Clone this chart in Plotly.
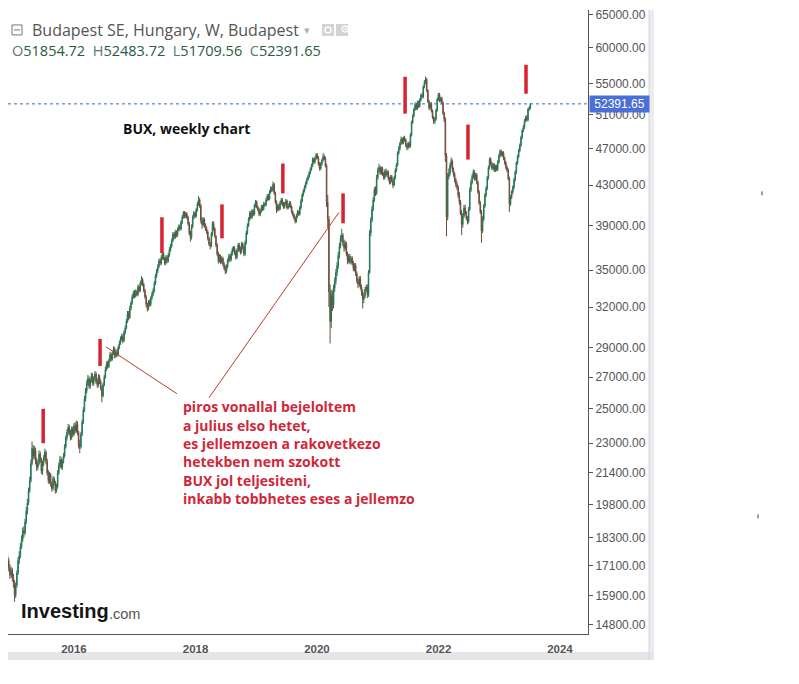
import math
import pandas as pd
import plotly.graph_objects as go

# ---------------- data (weekly BUX candles) ----------------
first_week = "2014-11-21"

closes = [
    17500, 17300, 17000, 16700, 16900, 16600, 16400, 15900, 16300, 16800,
    17300, 17500, 17900, 18200, 18600, 18500, 19000, 19500, 19900, 20500,
    21000, 21900, 22700, 22300, 22600, 22000, 21700, 21900, 22400, 22100,
    21500, 21900, 22200, 22500, 22000, 21400, 21000, 21300, 20800, 20600,
    21100, 20900, 20500, 20700, 21400, 21800, 22100, 21700, 22000, 22300,
    22800, 23300, 23600, 23900, 23600, 23300, 23800, 23500, 24000, 23700,
    24100, 23600, 22900, 22800, 23500, 24200, 24900, 25600, 26100, 26600,
    26900, 26400, 26800, 27100, 26600, 26900, 27200, 26700, 26500, 27000,
    26700, 26300, 25800, 26500, 27000, 27500, 27900, 27700, 28100, 28500,
    28200, 28600, 28900, 28400, 28700, 28500, 29000, 29300, 29600, 29800,
    29500, 30100, 30400, 30900, 31500, 31200, 31900, 32300, 32800, 33100,
    32900, 33200, 33000, 33600, 33300, 33900, 34200, 33800, 33300, 32800,
    32200, 31900, 32400, 32200, 32700, 33000, 33300, 33900, 34500, 34900,
    35300, 35800, 35600, 36100, 36400, 36000, 35600, 36100, 35800, 36300,
    36800, 37100, 37600, 38200, 37900, 38400, 38100, 38600, 38900, 38700,
    39300, 39800, 40200, 39900, 40100, 39800, 39200, 38300, 37900, 38900,
    39800, 40200, 39900, 40500, 41100, 41500, 40900, 39500, 39100, 39600,
    39000, 38700, 38400, 37800, 37300, 37100, 38200, 39200, 38700, 38000,
    37200, 36400, 35800, 36200, 35700, 36000, 35500, 35200, 34900, 35300,
    35800, 36200, 35900, 36400, 36800, 36900, 36500, 36100, 36700, 37200,
    36800, 36600, 37300, 37000, 36400, 37400, 38300, 39000, 39600, 40200,
    39800, 40400, 40100, 40900, 41300, 40800, 40500, 40100, 40400, 40800,
    40600, 41100, 41000, 41500, 41900, 41600, 42300, 42700, 42500, 43100,
    42200, 41300, 40500, 40900, 40600, 41200, 41500, 41100, 40800, 41100,
    41400, 40700, 40900, 41200, 40800, 40300, 40000, 39700, 39400, 39900,
    40300, 40100, 40700, 41400, 42000, 42400, 42800, 43200, 43600, 43900,
    44300, 44700, 45100, 45800, 45500, 45900, 46300, 46000, 45300, 44800,
    45300, 45700, 46100, 45900, 45100, 41300, 39600, 33200, 30900, 32900,
    32200, 33500, 34100, 34800, 35400, 36300, 37100, 37800, 38100, 37400,
    36900, 37300, 36400, 35800, 36200, 35700, 36000, 35600, 35100, 35400,
    34700, 34100, 33800, 34300, 33600, 33200, 32600, 32900, 33400, 33600,
    33000, 34800, 38300, 39500, 40600, 41500, 42500, 42200, 43800, 44600,
    44900, 44300, 44800, 44200, 43800, 44500, 44100, 44400, 43700, 43300,
    43900, 43500, 43000, 43800, 44600, 45200, 46500, 47000, 47600, 48100,
    47700, 48200, 48000, 47400, 47100, 47600, 47300, 48600, 50100, 50900,
    51700, 52300, 51800, 52600, 52100, 52900, 53500, 53300, 54600, 55200,
    55600, 54100, 52700, 51900, 52400, 51500, 50700, 50200, 50500, 51600,
    53000, 53600, 52800, 53100, 52500, 51200, 50500, 46200, 39800, 43900,
    44300, 45100, 45600, 44700, 44200, 43600, 43100, 42800, 42000, 41300,
    40200, 39100, 39900, 40700, 40200, 39700, 39400, 40600, 42500, 43300,
    43900, 44400, 43700, 44100, 43300, 42300, 41200, 40300, 38500, 39600,
    40900, 42000, 42700, 43800, 44900, 45800, 45300, 44800, 45200, 44600,
    45000, 44700, 45500, 46200, 46700, 46300, 46500, 45900, 45400, 44900,
    44600, 43700, 41100, 41800, 42300, 42800, 43600, 44400, 45400, 46100,
    46800, 47400, 48300, 49100, 49500, 50300, 50700, 50400, 51700, 51850,
    52391.65,
]

opens = [
    17800, 17500, 17300, 17000, 16700, 16900, 16600, 16400, 15900, 16300,
    16800, 17300, 17500, 17900, 18200, 18600, 18500, 19000, 19500, 19900,
    20500, 21000, 21900, 22700, 22300, 22600, 22000, 21700, 21900, 22400,
    22100, 21500, 21900, 22200, 22500, 22000, 21400, 21000, 21300, 20800,
    20600, 21100, 20900, 20500, 20700, 21400, 21800, 22100, 21700, 22000,
    22300, 22800, 23300, 23600, 23900, 23600, 23300, 23800, 23500, 24000,
    23700, 24100, 23600, 22900, 22800, 23500, 24200, 24900, 25600, 26100,
    26600, 26900, 26400, 26800, 27100, 26600, 26900, 27200, 26700, 26500,
    27000, 26700, 26300, 25800, 26500, 27000, 27500, 27900, 27700, 28100,
    28500, 28200, 28600, 28900, 28400, 28700, 28500, 29000, 29300, 29600,
    29800, 29500, 30100, 30400, 30900, 31500, 31200, 31900, 32300, 32800,
    33100, 32900, 33200, 33000, 33600, 33300, 33900, 34200, 33800, 33300,
    32800, 32200, 31900, 32400, 32200, 32700, 33000, 33300, 33900, 34500,
    34900, 35300, 35800, 35600, 36100, 36400, 36000, 35600, 36100, 35800,
    36300, 36800, 37100, 37600, 38200, 37900, 38400, 38100, 38600, 38900,
    38700, 39300, 39800, 40200, 39900, 40100, 39800, 39200, 38300, 37900,
    38900, 39800, 40200, 39900, 40500, 41100, 41500, 40900, 39500, 39100,
    39600, 39000, 38700, 38400, 37800, 37300, 37100, 38200, 39200, 38700,
    38000, 37200, 36400, 35800, 36200, 35700, 36000, 35500, 35200, 34900,
    35300, 35800, 36200, 35900, 36400, 36800, 36900, 36500, 36100, 36700,
    37200, 36800, 36600, 37300, 37000, 36400, 37400, 38300, 39000, 39600,
    40200, 39800, 40400, 40100, 40900, 41300, 40800, 40500, 40100, 40400,
    40800, 40600, 41100, 41000, 41500, 41900, 41600, 42300, 42700, 42500,
    43100, 42200, 41300, 40500, 40900, 40600, 41200, 41500, 41100, 40800,
    41100, 41400, 40700, 40900, 41200, 40800, 40300, 40000, 39700, 39400,
    39900, 40300, 40100, 40700, 41400, 42000, 42400, 42800, 43200, 43600,
    43900, 44300, 44700, 45100, 45800, 45500, 45900, 46300, 46000, 45300,
    44800, 45300, 45700, 46100, 45900, 45100, 41300, 39600, 33200, 30900,
    32900, 32200, 33500, 34100, 34800, 35400, 36300, 37100, 37800, 38100,
    37400, 36900, 37300, 36400, 35800, 36200, 35700, 36000, 35600, 35100,
    35400, 34700, 34100, 33800, 34300, 33600, 33200, 32600, 32900, 33400,
    33600, 33000, 34800, 38300, 39500, 40600, 41500, 42500, 42200, 43800,
    44600, 44900, 44300, 44800, 44200, 43800, 44500, 44100, 44400, 43700,
    43300, 43900, 43500, 43000, 43800, 44600, 45200, 46500, 47000, 47600,
    48100, 47700, 48200, 48000, 47400, 47100, 47600, 47300, 48600, 50100,
    50900, 51700, 52300, 51800, 52600, 52100, 52900, 53500, 53300, 54600,
    55200, 55600, 54100, 52700, 51900, 52400, 51500, 50700, 50200, 50500,
    51600, 53000, 53600, 52800, 53100, 52500, 51200, 50500, 46200, 39800,
    43900, 44300, 45100, 45600, 44700, 44200, 43600, 43100, 42800, 42000,
    41300, 40200, 39100, 39900, 40700, 40200, 39700, 39400, 40600, 42500,
    43300, 43900, 44400, 43700, 44100, 43300, 42300, 41200, 40300, 38500,
    39600, 40900, 42000, 42700, 43800, 44900, 45800, 45300, 44800, 45200,
    44600, 45000, 44700, 45500, 46200, 46700, 46300, 46500, 45900, 45400,
    44900, 44600, 43700, 41100, 41800, 42300, 42800, 43600, 44400, 45400,
    46100, 46800, 47400, 48300, 49100, 49500, 50300, 50700, 50400, 51700,
    51854.72,
]

highs = [
    17950, 17650, 17400, 17150, 17050, 17000, 16750, 16500, 16400, 16900,
    17450, 17700, 18050, 18400, 18750, 18800, 19150, 19700, 20100, 20650,
    21200, 22100, 23100, 22900, 22850, 22750, 22200, 22100, 22600, 22550,
    22200, 22050, 22350, 22700, 22600, 22150, 21550, 21450, 21400, 20950,
    21250, 21200, 21000, 20850, 21550, 21950, 22300, 22250, 22150, 22450,
    22950, 23450, 23800, 24100, 24050, 23750, 23950, 23950, 24150, 24200,
    24300, 24250, 23700, 23200, 23650, 24350, 25100, 25800, 26300, 26800,
    27150, 27050, 26950, 27300, 27250, 27050, 27400, 27350, 26900, 27200,
    27150, 26850, 26450, 26650, 27150, 27700, 28050, 28100, 28250, 28700,
    28650, 28750, 29100, 29050, 28850, 28900, 29150, 29500, 29800, 30000,
    29950, 30250, 30600, 31100, 31700, 31700, 32100, 32500, 33000, 33300,
    33350, 33400, 33350, 33800, 33750, 34100, 34500, 34350, 33950, 33450,
    32950, 32350, 32550, 32600, 32850, 33200, 33500, 34100, 34700, 35100,
    35500, 36000, 36000, 36300, 36600, 36600, 36150, 36300, 36300, 36500,
    37000, 37300, 37800, 38400, 38350, 38600, 38550, 38800, 39100, 39100,
    39500, 40000, 40400, 40400, 40300, 40300, 39950, 39350, 38500, 39100,
    40000, 40400, 40350, 40700, 41300, 41900, 41700, 41100, 39800, 39800,
    39750, 39200, 38900, 38550, 37950, 37500, 38400, 39400, 39400, 38850,
    38100, 37350, 36600, 36400, 36350, 36200, 36150, 35700, 35400, 35500,
    36000, 36400, 36400, 36600, 37000, 37100, 37100, 36700, 36900, 37400,
    37400, 37050, 37500, 37450, 37150, 37600, 38500, 39200, 39800, 40400,
    40450, 40600, 40550, 41100, 41500, 41450, 40950, 40700, 40600, 41000,
    41000, 41300, 41250, 41700, 42100, 42100, 42500, 42900, 42900, 43400,
    43250, 42350, 41450, 41100, 41100, 41400, 41700, 41700, 41300, 41300,
    41600, 41550, 41100, 41400, 41350, 40950, 40450, 40150, 39850, 40100,
    40500, 40450, 40900, 41600, 42200, 42600, 43000, 43400, 43800, 44100,
    44500, 44900, 45300, 46000, 46000, 46100, 46500, 46500, 46150, 45500,
    45500, 45900, 46500, 46300, 46100, 45300, 42000, 39900, 33800, 33400,
    33300, 33800, 34400, 35100, 35700, 36600, 37400, 38100, 38700, 38300,
    37700, 37600, 37500, 36600, 36400, 36400, 36200, 36200, 35800, 35600,
    35600, 34900, 34300, 34500, 34500, 33800, 33400, 33100, 33600, 33800,
    33800, 35000, 38600, 39800, 40900, 41800, 42800, 42900, 44100, 44900,
    45300, 45100, 45000, 45000, 44400, 44700, 44800, 44600, 44600, 43900,
    44100, 44100, 43700, 44000, 44800, 45400, 46700, 47300, 47800, 48400,
    48300, 48400, 48500, 48200, 47600, 47800, 47800, 48800, 50300, 51100,
    51900, 52600, 52500, 52800, 52800, 53100, 53700, 53800, 54800, 55500,
    56000, 55800, 54300, 52900, 52600, 52600, 51700, 50900, 50700, 51800,
    53200, 53800, 53800, 53300, 53300, 52700, 51400, 50700, 46500, 44300,
    44800, 45400, 46000, 45800, 44900, 44400, 43800, 43400, 43000, 42300,
    41500, 40500, 40200, 41000, 41000, 40400, 39900, 40800, 42800, 43600,
    44200, 44700, 44600, 44300, 44300, 43500, 42500, 41400, 40500, 39900,
    41100, 42200, 42900, 44000, 45100, 46000, 46000, 45500, 45400, 45400,
    45200, 45200, 45700, 46400, 46900, 46900, 46700, 46700, 46100, 45600,
    45100, 44800, 43900, 42000, 42500, 43000, 43800, 44600, 45600, 46300,
    47000, 47600, 48500, 49300, 49800, 50500, 50900, 51000, 51900, 52100,
    52483.72,
]

lows = [
    17350, 17150, 16850, 16550, 16600, 16450, 16200, 15650, 15800, 16200,
    16700, 17150, 17400, 17800, 18100, 18300, 18400, 18900, 19350, 19800,
    20400, 20900, 21800, 22100, 22150, 21850, 21500, 21550, 21800, 21950,
    21350, 21300, 21750, 22050, 21850, 21250, 20850, 20850, 20700, 20450,
    20500, 20750, 20350, 20400, 20600, 21300, 21650, 21600, 21550, 21900,
    22200, 22700, 23150, 23450, 23450, 23150, 23200, 23350, 23400, 23550,
    23600, 23450, 22700, 22450, 22700, 23400, 24100, 24800, 25450, 25950,
    26450, 26250, 26250, 26650, 26450, 26450, 26750, 26550, 26300, 26350,
    26550, 26150, 25400, 25700, 26400, 26900, 27400, 27550, 27600, 28000,
    28050, 28100, 28500, 28250, 28300, 28350, 28400, 28900, 29200, 29450,
    29300, 29400, 29950, 30300, 30800, 31000, 31100, 31750, 32200, 32650,
    32700, 32750, 32850, 32850, 33150, 33200, 33750, 33650, 33150, 32650,
    32000, 31650, 31750, 32050, 32050, 32550, 32850, 33150, 33750, 34350,
    34750, 35150, 35400, 35450, 35900, 35850, 35400, 35450, 35600, 35650,
    36150, 36600, 36950, 37450, 37700, 37750, 37900, 37950, 38450, 38500,
    38550, 39150, 39650, 39700, 39700, 39600, 39000, 38100, 37500, 37700,
    38750, 39600, 39700, 39750, 40350, 40900, 40700, 39200, 38700, 38900,
    38800, 38500, 38200, 37600, 37100, 36800, 37000, 38000, 38500, 37850,
    37000, 36200, 35550, 35650, 35500, 35550, 35300, 35000, 34650, 34750,
    35150, 35650, 35700, 35750, 36250, 36600, 36300, 35900, 35950, 36550,
    36600, 36350, 36450, 36800, 36200, 36250, 37250, 38150, 38850, 39450,
    39600, 39650, 39900, 39950, 40750, 40650, 40350, 39900, 39900, 40250,
    40400, 40450, 40850, 40850, 41350, 41450, 41450, 42150, 42300, 42350,
    42000, 41100, 40200, 40350, 40400, 40450, 41000, 40900, 40600, 40650,
    40950, 40550, 40550, 40750, 40650, 40150, 39850, 39550, 39200, 39250,
    39750, 39950, 39950, 40550, 41250, 41850, 42250, 42650, 43050, 43450,
    43750, 44150, 44550, 44950, 45300, 45300, 45750, 45800, 45100, 44550,
    44600, 45100, 45550, 45700, 44900, 40800, 38800, 32000, 29300, 30400,
    31700, 31900, 33200, 33800, 34500, 35100, 36000, 36900, 37500, 37100,
    36600, 36700, 36200, 35500, 35600, 35500, 35500, 35400, 34900, 34900,
    34500, 33900, 33500, 33600, 33400, 32900, 31900, 32300, 32700, 33200,
    32700, 32800, 34700, 38000, 39300, 40400, 41300, 41900, 42000, 43600,
    44400, 44100, 44100, 44000, 43600, 43600, 43900, 43900, 43500, 43100,
    43100, 43300, 42700, 42900, 43600, 44400, 45000, 46300, 46800, 47400,
    47500, 47500, 47800, 47200, 46800, 46900, 47100, 47100, 48400, 49900,
    50700, 51500, 51600, 51600, 51900, 51900, 52700, 53100, 53100, 54400,
    55000, 53900, 52500, 51600, 51700, 51300, 50500, 49900, 49900, 50300,
    51400, 52800, 52600, 52600, 52300, 51000, 50100, 45500, 38000, 39500,
    43600, 44000, 44900, 44400, 43900, 43300, 42800, 42500, 41700, 41000,
    40000, 38100, 38800, 39700, 40000, 39500, 39100, 39200, 40400, 42300,
    43100, 43700, 43500, 43500, 43100, 42100, 41000, 40100, 37400, 38300,
    39400, 40700, 41800, 42500, 43600, 44700, 45100, 44600, 44600, 44400,
    44400, 44500, 44500, 45300, 46000, 46100, 46100, 45700, 45200, 44700,
    44400, 43500, 40300, 40900, 41600, 42100, 42600, 43400, 44200, 45200,
    45900, 46600, 47200, 48100, 48900, 49300, 50100, 50200, 50200, 51500,
    51709.56,
]

# price axis ticks (log scale, right side)
price_ticks = [14800, 15900, 17100, 18300, 19800, 21400, 23000, 25000, 27000,
               29000, 32000, 35000, 39000, 43000, 47000, 51000, 55000, 60000, 65000]
year_ticks = [2016, 2018, 2020, 2022, 2024]

# red hand-drawn marks ("first week of July")
mark_dates = ["2015-06-30", "2016-06-06", "2017-06-13", "2018-06-09", "2019-06-10",
              "2020-06-06", "2021-06-14", "2022-06-27", "2023-06-11"]
mark_low = [23000, 27740, 36470, 37810, 42160, 39210, 51160, 45770, 53700]
mark_high = [25000, 29620, 39790, 41050, 45330, 42160, 55950, 49820, 57600]

title_text = "Budapest SE, Hungary, W, Budapest"
chart_label = "BUX, weekly chart"
note_lines = [
    "piros vonallal bejeloltem",
    "a julius elso hetet,",
    "es jellemzoen a rakovetkezo",
    "hetekben nem szokott",
    "BUX jol teljesiteni,",
    "inkabb tobbhetes eses a jellemzo",
]

# ---------------- figure ----------------
dates = pd.date_range(first_week, periods=len(closes), freq="7D")

# page offset of the plot div (browser body margin)
OFF = 8
W, H = 799 - OFF, 684 - OFF
# plot area in page pixels
PL, PR, PT, PB = OFF, 588, OFF, 634


def px(x):
    return (x - PL) / (PR - PL)


def py(y):
    return (PB - y) / (PB - PT)


fig = go.Figure()
fig.add_trace(go.Candlestick(
    x=dates, open=opens, high=highs, low=lows, close=closes,
    increasing=dict(line=dict(color="#23744f", width=1), fillcolor="#5fd3a3"),
    decreasing=dict(line=dict(color="#6e4a3a", width=1), fillcolor="#dca291"),
    whiskerwidth=0, showlegend=False, hoverinfo="skip",
))

# log-scale mapping measured on the reference: 65000 at y=13, 413.5 px per e-fold
y_top = 65000 * math.exp((13 - PT) / 413.5)
y_bot = 65000 * math.exp(-(PB - 13) / 413.5)

shapes = []
annotations = []

# red vertical marks
for d, lo, hi in zip(mark_dates, mark_low, mark_high):
    shapes.append(dict(type="line", xref="x", yref="y", x0=d, x1=d, y0=lo, y1=hi,
                       line=dict(color="#d6232f", width=3.5), layer="above"))

# thin red pointer lines
for (x0, y0, x1, y1) in [(106, 346, 177, 393), (209, 397, 339, 211)]:
    shapes.append(dict(type="line", xref="paper", yref="paper",
                       x0=px(x0), y0=py(y0), x1=px(x1), y1=py(y1),
                       line=dict(color="#c0392b", width=1)))

# dotted last-price line
last_close = closes[-1]
shapes.append(dict(type="line", xref="paper", yref="y", x0=0, x1=1,
                   y0=last_close, y1=last_close,
                   line=dict(color="#3d6c9e", width=1, dash="dot")))


def rect(x0, y0, x1, y1, fill, line=None):
    shapes.append(dict(type="rect", xref="paper", yref="paper",
                       x0=px(x0), x1=px(x1), y0=py(y1), y1=py(y0),
                       fillcolor=fill, line=dict(width=0 if line is None else 1,
                                                 color=line or fill),
                       layer="below"))


# widget chrome (right strip, bottom strip)
rect(649, OFF, 654, 660, "#ececf0")
shapes.append(dict(type="line", xref="paper", yref="paper", x0=px(649), x1=px(649),
                   y0=py(OFF), y1=py(660), line=dict(color="#d6d6da", width=1)))
rect(OFF, 652, 654, 660, "#e6e6ea")

# header icon boxes
shapes.append(dict(type="rect", xref="paper", yref="paper", x0=px(12), x1=px(22),
                   y0=py(33), y1=py(23), line=dict(color="#777", width=1)))
shapes.append(dict(type="line", xref="paper", yref="paper", x0=px(14), x1=px(20),
                   y0=py(28), y1=py(28), line=dict(color="#777", width=1)))
for bx in (322, 336):
    shapes.append(dict(type="rect", xref="paper", yref="paper", x0=px(bx), x1=px(bx + 12),
                       y0=py(34), y1=py(22), fillcolor="#d3d3d6", line=dict(width=0)))
shapes.append(dict(type="circle", xref="paper", yref="paper", x0=px(325), x1=px(331),
                   y0=py(31), y1=py(25), line=dict(color="white", width=1.5)))

# tiny marks far right
for (mx, my) in [(762, 192), (758, 516)]:
    shapes.append(dict(type="line", xref="paper", yref="paper", x0=px(mx), x1=px(mx),
                       y0=py(my - 2), y1=py(my + 2), line=dict(color="#7a1f1f", width=1)))


def text(x, y, s, size, color, family="Open Sans", xanchor="left", **kw):
    annotations.append(dict(xref="paper", yref="paper", x=px(x), y=py(y), text=s,
                            showarrow=False, xanchor=xanchor, yanchor="middle",
                            font=dict(size=size, color=color, family=family), **kw))


text(30, 28, title_text, 16, "#555555")
text(302, 29, "▾", 11, "#b0b0b0", family="DejaVu Sans")
text(338, 28, "⚙", 11, "white", family="DejaVu Sans")

lab = "#5a7a68"
num = "#2b5a3f"
sp = "\u00a0\u00a0"
ohlc = (f"<span style='color:{lab}'>O</span>{opens[-1]:.2f}{sp}"
        f"<span style='color:{lab}'>H</span>{highs[-1]:.2f}{sp}"
        f"<span style='color:{lab}'>L</span>{lows[-1]:.2f}{sp}"
        f"<span style='color:{lab}'>C</span>{closes[-1]:.2f}")
text(10, 49, ohlc, 14.5, num)

text(121, 127, f"<b>{chart_label}</b>", 14, "#111111")

for k, line in enumerate(note_lines):
    text(181, 406 + k * 18.4, f"<b>{line}</b>", 14, "#d0283a")

# Investing.com logo
text(19, 611, "<b>Investing</b>", 20, "#151515", family="Liberation Sans")
text(107, 614, ".com", 14.5, "#555555", family="Liberation Sans")

# last price tag on the axis
annotations.append(dict(xref="paper", yref="y", x=1, y=math.log10(last_close),
                        text=f"{last_close:.2f}", showarrow=False, xanchor="left",
                        yanchor="middle", xshift=1, width=57, height=14, align="center",
                        bgcolor="#4a6fd8", borderpad=1,
                        font=dict(size=12, color="white", family="Liberation Sans")))


# x range from the reference: 2016-01-01 at x=74, 2024-01-01 at x=560
def page_x_to_date(x):
    t = 2016 + (x - 74) / 60.75
    year = int(t)
    start = pd.Timestamp(f"{year}-01-01")
    days = (pd.Timestamp(f"{year + 1}-01-01") - start).days
    return (start + pd.Timedelta(days=(t - year) * days)).strftime("%Y-%m-%d %H:%M")


fig.update_layout(
    width=W, height=H,
    margin=dict(l=PL - OFF, r=W - (PR - OFF), t=PT - OFF, b=H - (PB - OFF)),
    paper_bgcolor="white", plot_bgcolor="white",
    shapes=shapes, annotations=annotations,
    showlegend=False,
    xaxis=dict(
        type="date",
        range=[page_x_to_date(PL), page_x_to_date(PR)],
        rangeslider=dict(visible=False),
        showgrid=False, zeroline=False,
        showline=True, linecolor="#555555", linewidth=1,
        tickvals=[f"{y}-01-01" for y in year_ticks],
        ticktext=[str(y) for y in year_ticks],
        ticks="", ticklabelstandoff=4,
        tickfont=dict(size=11.5, color="#555555", family="Liberation Sans", weight="bold"),
    ),
    yaxis=dict(
        type="log", side="right",
        range=[math.log10(y_bot), math.log10(y_top)],
        showgrid=False, zeroline=False,
        showline=True, linecolor="#555555", linewidth=1,
        tickvals=price_ticks,
        ticktext=[f"{v:.2f}" for v in price_ticks],
        ticks="outside", ticklen=4, tickcolor="#555555",
        ticklabeloverflow="allow",
        tickfont=dict(size=12, color="#555555", family="Liberation Sans"),
    ),
)

fig.write_html("out.html")
